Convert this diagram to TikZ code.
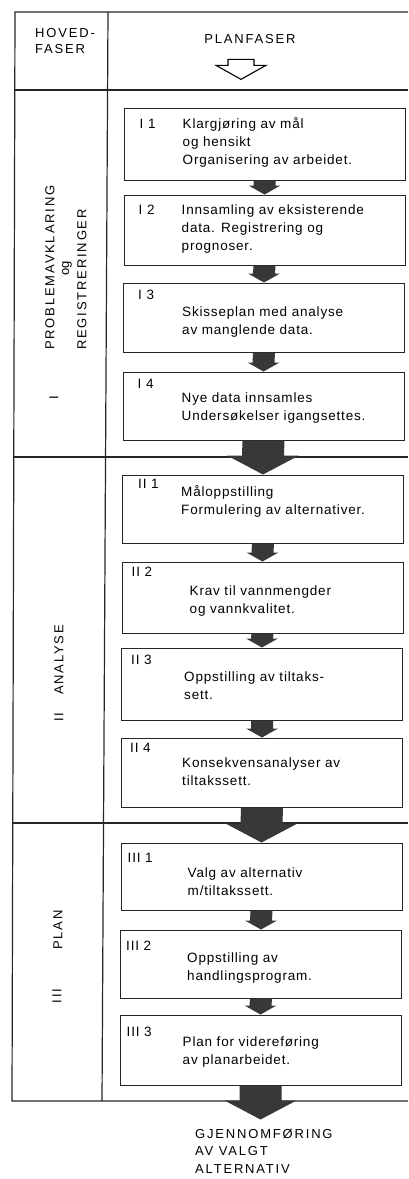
\documentclass[tikz,border=0pt]{standalone}
\usepackage{fontspec}
\setmainfont{Liberation Sans}
\newfontfamily\capsfont[LetterSpace=14]{Liberation Sans}
\newfontfamily\boxfont[LetterSpace=6]{Liberation Sans}
\usetikzlibrary{calc,positioning}
\newcommand{\steplines}[1]{\begin{tabular}[t]{@{}l@{}}#1\end{tabular}}

\begin{document}
\begin{tikzpicture}[
    x=1pt, y=-1pt,
    frame/.style={line width=1.2pt, draw=black!85},
    phase/.style={rectangle, draw=black!85, line width=1pt, fill=white, minimum width=281pt, inner sep=0pt},
    tagtext/.style={anchor=base west, inner sep=0pt, font=\boxfont\fontsize{13.5}{18}\selectfont},
    desc/.style={anchor=base west, inner sep=0pt, font=\boxfont\fontsize{13.5}{18}\selectfont},
    caps/.style={inner sep=0pt, font=\capsfont\fontsize{13}{16}\selectfont},
    side/.style={caps, rotate=90},
    darrow/.style={fill=black!78},
    hollow/.style={draw=black, line width=1.1pt, fill=white, line join=miter}
]
\useasboundingbox (0,0) rectangle (408,1179);

% frame and phase lines
\draw[frame] (408,12) -- (15,12) -- (12,1101) -- (408,1101);
\draw[frame] (108,12) -- (102,1101);
\draw[frame] (14.8,90) -- (408,90);
\draw[frame] (13.7,457) -- (408,457);
\draw[frame] (12.7,823) -- (408,823);

% header
\node[caps, anchor=base west] (hoved) at (35,37) {\steplines{HOVED-\\FASER}};
\node[caps, anchor=base] (planfaser) at (250,43) {PLANFASER};
\coordinate (pa) at ($(planfaser.south)+(-9,0)$);
\draw[hollow] ($(pa)+(-13,16)$) -- ($(pa)+(13,16)$) -- ($(pa)+(13,22)$) -- ($(pa)+(25,22)$)
    -- ($(pa)+(0,36)$) -- ($(pa)+(-25,22)$) -- ($(pa)+(-13,22)$) -- cycle;

% main phases
\node[side, anchor=west] (probl) at (50,350) {PROBLEMAVKLARING};
\node[rotate=90, inner sep=0pt, font=\fontsize{13}{16}\selectfont] (og) at (67,268) {og};
\node[side, anchor=west] (registr) at (82,350) {REGISTRERINGER};
\node[side] (rom1) at (54,398) {I};
\node[side] (analyse) at (59,660) {ANALYSE};
\node[side] (rom2) at (59,717) {II};
\node[side] (plan) at (58,930) {PLAN};
\node[side] (rom3) at (57,996) {III};

% plan steps, phase I
\node[phase, minimum height=72pt] (i1) at (264.5,144) {};
\node[tagtext] (i1-tag) at ($(i1.north west)+(16,21)$) {I 1};
\node[desc] (i1-txt) at ($(i1.north west)+(59,21)$) {\steplines{Klargjøring av mål\\og hensikt\\Organisering av arbeidet.}};

\node[phase, minimum height=70pt] (i2) at (264.5,230) {};
\node[tagtext] (i2-tag) at ($(i2.north west)+(15,20)$) {I 2};
\node[desc] (i2-txt) at ($(i2.north west)+(58,20)$) {\steplines{Innsamling av eksisterende\\data. Registrering og\\prognoser.}};

\node[phase, minimum height=69pt] (i3) at (264,317.5) {};
\node[tagtext] (i3-tag) at ($(i3.north west)+(15,17)$) {I 3};
\node[desc] (i3-txt) at ($(i3.north west)+(59,34)$) {\steplines{Skisseplan med analyse\\av manglende data.}};

\node[phase, minimum height=68pt] (i4) at (263.5,406) {};
\node[tagtext] (i4-tag) at ($(i4.north west)+(15,17)$) {I 4};
\node[desc] (i4-txt) at ($(i4.north west)+(59,31)$) {\steplines{Nye data innsamles\\Undersøkelser igangsettes.}};

% phase II
\node[phase, minimum height=68pt] (ii1) at (263,509) {};
\node[tagtext] (ii1-tag) at ($(ii1.north west)+(16,14)$) {II 1};
\node[desc] (ii1-txt) at ($(ii1.north west)+(59,22)$) {\steplines{Måloppstilling\\Formulering av alternativer.}};

\node[phase, minimum height=71pt] (ii2) at (262.5,597.5) {};
\node[tagtext] (ii2-tag) at ($(ii2.north west)+(10,15)$) {II 2};
\node[desc] (ii2-txt) at ($(ii2.north west)+(68,34)$) {\steplines{Krav til vannmengder\\og vannkvalitet.}};

\node[phase, minimum height=72pt] (ii3) at (262,684) {};
\node[tagtext] (ii3-tag) at ($(ii3.north west)+(10,17)$) {II 3};
\node[desc] (ii3-txt) at ($(ii3.north west)+(63,34)$) {\steplines{Oppstilling av tiltaks-\\sett.}};

\node[phase, minimum height=69pt] (ii4) at (262,772.5) {};
\node[tagtext] (ii4-tag) at ($(ii4.north west)+(9,15)$) {II 4};
\node[desc] (ii4-txt) at ($(ii4.north west)+(61,30)$) {\steplines{Konsekvensanalyser av\\tiltakssett.}};

% phase III
\node[phase, minimum height=67pt] (iii1) at (261.5,876.5) {};
\node[tagtext] (iii1-tag) at ($(iii1.north west)+(7,20)$) {III 1};
\node[desc] (iii1-txt) at ($(iii1.north west)+(67,35)$) {\steplines{Valg av alternativ\\m/tiltakssett.}};

\node[phase, minimum height=68pt] (iii2) at (261,964) {};
\node[tagtext] (iii2-tag) at ($(iii2.north west)+(6,21)$) {III 2};
\node[desc] (iii2-txt) at ($(iii2.north west)+(67,33)$) {\steplines{Oppstilling av\\handlingsprogram.}};

\node[phase, minimum height=70pt] (iii3) at (260.5,1050) {};
\node[tagtext] (iii3-tag) at ($(iii3.north west)+(7,22)$) {III 3};
\node[desc] (iii3-txt) at ($(iii3.north west)+(63,32)$) {\steplines{Plan for videreføring\\av planarbeidet.}};

% small arrows inside a phase
\foreach \u/\v in {i1/i2,i2/i3,i3/i4,ii1/ii2,ii2/ii3,ii3/ii4,iii1/iii2,iii2/iii3}
  \fill[darrow] ($(\u.south)+(-11,0)$) -- ($(\u.south)+(11,0)$) -- ($(\v.north)+(11,-9)$)
    -- ($(\v.north)+(16,-9)$) -- (\v.north) -- ($(\v.north)+(-16,-9)$) -- ($(\v.north)+(-11,-9)$) -- cycle;

% big arrows between phases
\foreach \u/\v in {i4/ii1,ii4/iii1}
  \fill[darrow] ($(\u.south)+(-21,0)$) -- ($(\u.south)+(21,0)$) -- ($(\v.north)+(21,-19)$)
    -- ($(\v.north)+(36,-19)$) -- (\v.north) -- ($(\v.north)+(-36,-19)$) -- ($(\v.north)+(-21,-19)$) -- cycle;

\coordinate (done) at ($(iii3.south)+(0,34)$);
\fill[darrow] ($(iii3.south)+(-21,0)$) -- ($(iii3.south)+(21,0)$) -- ($(done)+(21,-19)$)
    -- ($(done)+(36,-19)$) -- (done) -- ($(done)+(-36,-19)$) -- ($(done)+(-21,-19)$) -- cycle;

\node[caps, anchor=base west, font=\capsfont\fontsize{13}{17.5}\selectfont] (gjennom) at (195,1138) {\steplines{GJENNOMFØRING\\AV VALGT\\ALTERNATIV}};

\end{tikzpicture}
\end{document}
